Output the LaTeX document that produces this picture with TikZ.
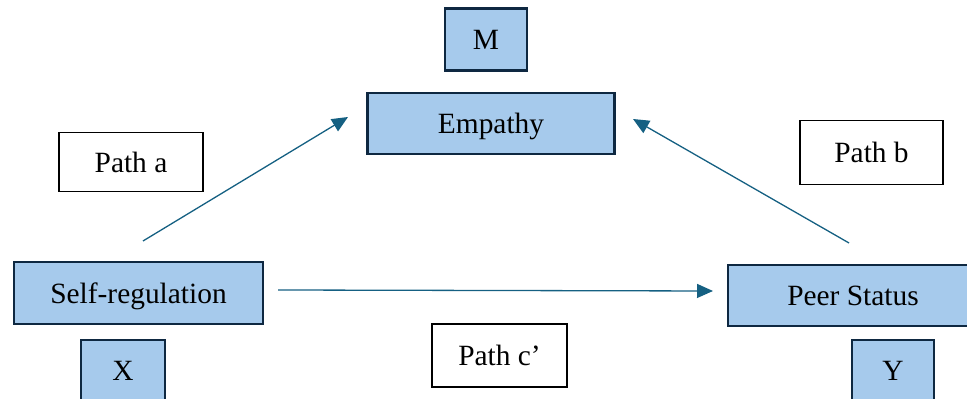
\documentclass[tikz,border=0pt]{standalone}
\usepackage{fontspec}
\setmainfont{Liberation Serif}
\usepackage{xcolor}
\usetikzlibrary{arrows.meta}

\definecolor{boxfill}{HTML}{A6CAEC}
\definecolor{boxline}{HTML}{0E2841}
\definecolor{arrowblue}{HTML}{156082}

\tikzset{
    varbox/.style={draw=boxline, line width=1.1pt, fill=boxfill, inner sep=0pt, text depth=0pt},
    pathbox/.style={draw=black, line width=0.8pt, fill=white, inner sep=0pt, text depth=0pt},
    effect/.style={arrowblue, line width=0.65pt, -{Triangle[length=8pt,width=7pt]}}
}

\begin{document}
\begin{tikzpicture}[x=0.5pt, y=-0.5pt, font=\fontsize{14.7}{17}\selectfont]
    \useasboundingbox (0,0) rectangle (967,399);
    % variables
    \node[varbox, minimum width=41pt, minimum height=31pt] (m) at (486,39.5) {M};
    \node[varbox, minimum width=123.5pt, minimum height=30.5pt] (empathy) at (491,123.5) {Empathy};
    \node[varbox, minimum width=124.5pt, minimum height=31pt] (selfreg) at (138.5,293) {Self-regulation};
    \node[varbox, minimum width=42pt, minimum height=31pt] (x) at (123,371) {X};
    \node[varbox, minimum width=125pt, minimum height=30.5pt] (peer) at (853,295.5) {Peer Status};
    \node[varbox, minimum width=41pt, minimum height=31pt] (y) at (893,371) {Y};
    % path labels
    \node[pathbox, minimum width=72pt, minimum height=29.5pt] (patha) at (131,162) {Path a};
    \node[pathbox, minimum width=71.5pt, minimum height=32pt] (pathb) at (871.5,152.5) {Path b};
    \node[pathbox, minimum width=67.5pt, minimum height=31.5pt] (pathc) at (499.5,355.5) {Path c’};
    % arrow ends
    \coordinate (a0) at (143,241);
    \coordinate (a1) at (348,117);
    \coordinate (b0) at (849,243);
    \coordinate (b1) at (633,119);
    \coordinate (c0) at (278,290);
    \coordinate (c1) at (713,291);
    \draw[effect] (a0) -- (a1);
    \draw[effect] (b0) -- (b1);
    \draw[effect] (c0) -- (c1);
\end{tikzpicture}
\end{document}
